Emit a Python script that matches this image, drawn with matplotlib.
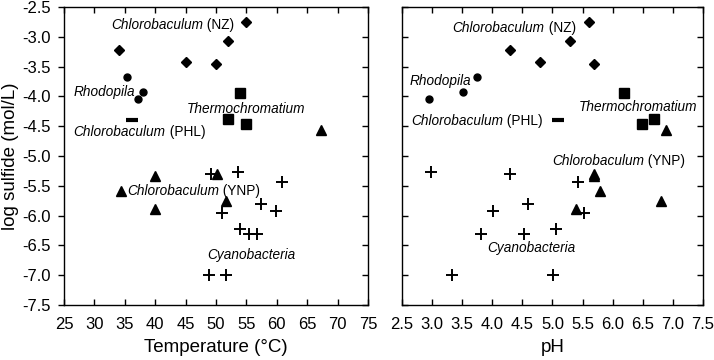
import matplotlib
matplotlib.use("Agg")
import matplotlib.pyplot as plt
import matplotlib.lines as mlines
import numpy as np

plt.rcParams["font.family"] = ["Liberation Sans", "DejaVu Sans"]
plt.rcParams["axes.unicode_minus"] = False

# Chlorobaculum (NZ) - diamonds
nz_temp = [34, 45, 50, 52, 55]
nz_ph = [4.29, 4.80, 5.69, 5.29, 5.60]
nz_sulfide = [-3.22, -3.42, -3.46, -3.07, -2.75]

# Rhodopila - circles
rh_temp = [35.4, 37.2, 38.0]
rh_ph = [3.75, 2.95, 3.51]
rh_sulfide = [-3.67, -4.05, -3.92]

# Thermochromatium - squares
th_temp = [54.0, 52.0, 55.0]
th_ph = [6.19, 6.69, 6.49]
th_sulfide = [-3.94, -4.38, -4.47]

# Chlorobaculum (PHL) - dash
phl_temp = [36.2]
phl_ph = [5.09]
phl_sulfide = [-4.40]

# Chlorobaculum (YNP) - triangles
ynp_temp = [67.3, 40.0, 50.1, 34.3, 51.6, 40.0]
ynp_ph = [6.89, 5.69, 5.69, 5.79, 6.80, 5.39]
ynp_sulfide = [-4.56, -5.34, -5.30, -5.58, -5.75, -5.89]

# Cyanobacteria - crosses
cy_temp = [49.1, 53.6, 60.8, 51.0, 53.9, 55.5, 56.8, 57.4, 59.8, 48.8, 51.6]
cy_ph = [4.29, 2.98, 5.42, 5.53, 5.06, 3.81, 4.53, 4.60, 4.02, 3.33, 5.01]
cy_sulfide = [-5.30, -5.27, -5.44, -5.96, -6.23, -6.31, -6.31, -5.80, -5.93, -7.00, -7.00]

# labels: italic genus + plain suffix, positions in each panel
label_names = ["Chlorobaculum", "Rhodopila", "Thermochromatium",
               "Chlorobaculum", "Chlorobaculum", "Cyanobacteria"]
label_suffix = [" (NZ)", "", "", " (PHL)", " (YNP)", ""]
label_temp_xy = [(32.7, -2.80), (26.5, -3.92), (45.2, -4.21),
                 (26.6, -4.60), (35.4, -5.58), (48.6, -6.66)]
label_ph_xy = [(3.34, -2.86), (2.62, -3.74), (5.43, -4.18),
               (2.65, -4.41), (5.00, -5.08), (3.91, -6.55)]

temp_ticks = np.arange(25, 76, 5)
ph_ticks = np.arange(2.5, 7.51, 0.5)
y_ticks = np.arange(-7.5, -2.49, 0.5)

fig = plt.figure(figsize=(7.14, 3.6), dpi=100)
ax1 = fig.add_axes([0.0896, 0.1528, 0.4258, 0.8278])
ax2 = fig.add_axes([0.5630, 0.1528, 0.4216, 0.8278])


def draw_points(ax, xs_list):
    nz, rh, th, phl, ynp, cy = xs_list
    ax.plot(nz, nz_sulfide, "D", color="black", ms=5.5, ls="none")
    ax.plot(rh, rh_sulfide, "o", color="black", ms=5, ls="none")
    ax.plot(th, th_sulfide, "s", color="black", ms=7, ls="none")
    ax.plot(phl, phl_sulfide, "_", color="black", ms=9, mew=3, ls="none")
    ax.plot(ynp, ynp_sulfide, "^", color="black", ms=7, ls="none")
    ax.plot(cy, cy_sulfide, "+", color="black", ms=9, mew=1.4, ls="none")


def draw_labels(ax, positions):
    for name, suffix, (x, y) in zip(label_names, label_suffix, positions):
        t = ax.text(x, y, name, style="italic", fontsize=9.8, va="center", ha="left")
        if suffix:
            ax.annotate(suffix, xy=(1, 0.5), xycoords=t, va="center", ha="left",
                        fontsize=9.8)


draw_points(ax1, [nz_temp, rh_temp, th_temp, phl_temp, ynp_temp, cy_temp])
draw_points(ax2, [nz_ph, rh_ph, th_ph, phl_ph, ynp_ph, cy_ph])
draw_labels(ax1, label_temp_xy)
draw_labels(ax2, label_ph_xy)

ax1.set_xlim(25, 75)
ax1.set_xticks(temp_ticks)
ax1.set_xticklabels([f"{t:d}" for t in temp_ticks])
ax2.set_xlim(2.5, 7.5)
ax2.set_xticks(ph_ticks)
ax2.set_xticklabels([f"{t:.1f}" for t in ph_ticks])

for ax in (ax1, ax2):
    ax.set_ylim(-7.5, -2.5)
    ax.set_yticks(y_ticks)
    ax.tick_params(direction="in", top=True, right=True, length=4.5, width=1,
                   labelsize=12)
    ax.tick_params(axis="x", pad=8.5)
    for s in ax.spines.values():
        s.set_linewidth(1)

ax1.set_yticklabels([f"{v:.1f}" for v in y_ticks])
ax1.tick_params(axis="y", pad=9.5)
ax2.tick_params(labelleft=False)

# left panel: left-side y ticks point outward
for tick in ax1.yaxis.get_major_ticks():
    tick.tick1line.set_marker(mlines.TICKLEFT)

ax1.set_xlabel("Temperature (°C)", fontsize=13.5, labelpad=5)
ax2.set_xlabel("pH", fontsize=13.5, labelpad=5)
ax1.set_ylabel("log sulfide (mol/L)", fontsize=13.5, labelpad=2)

fig.savefig("out.png", dpi=100)
